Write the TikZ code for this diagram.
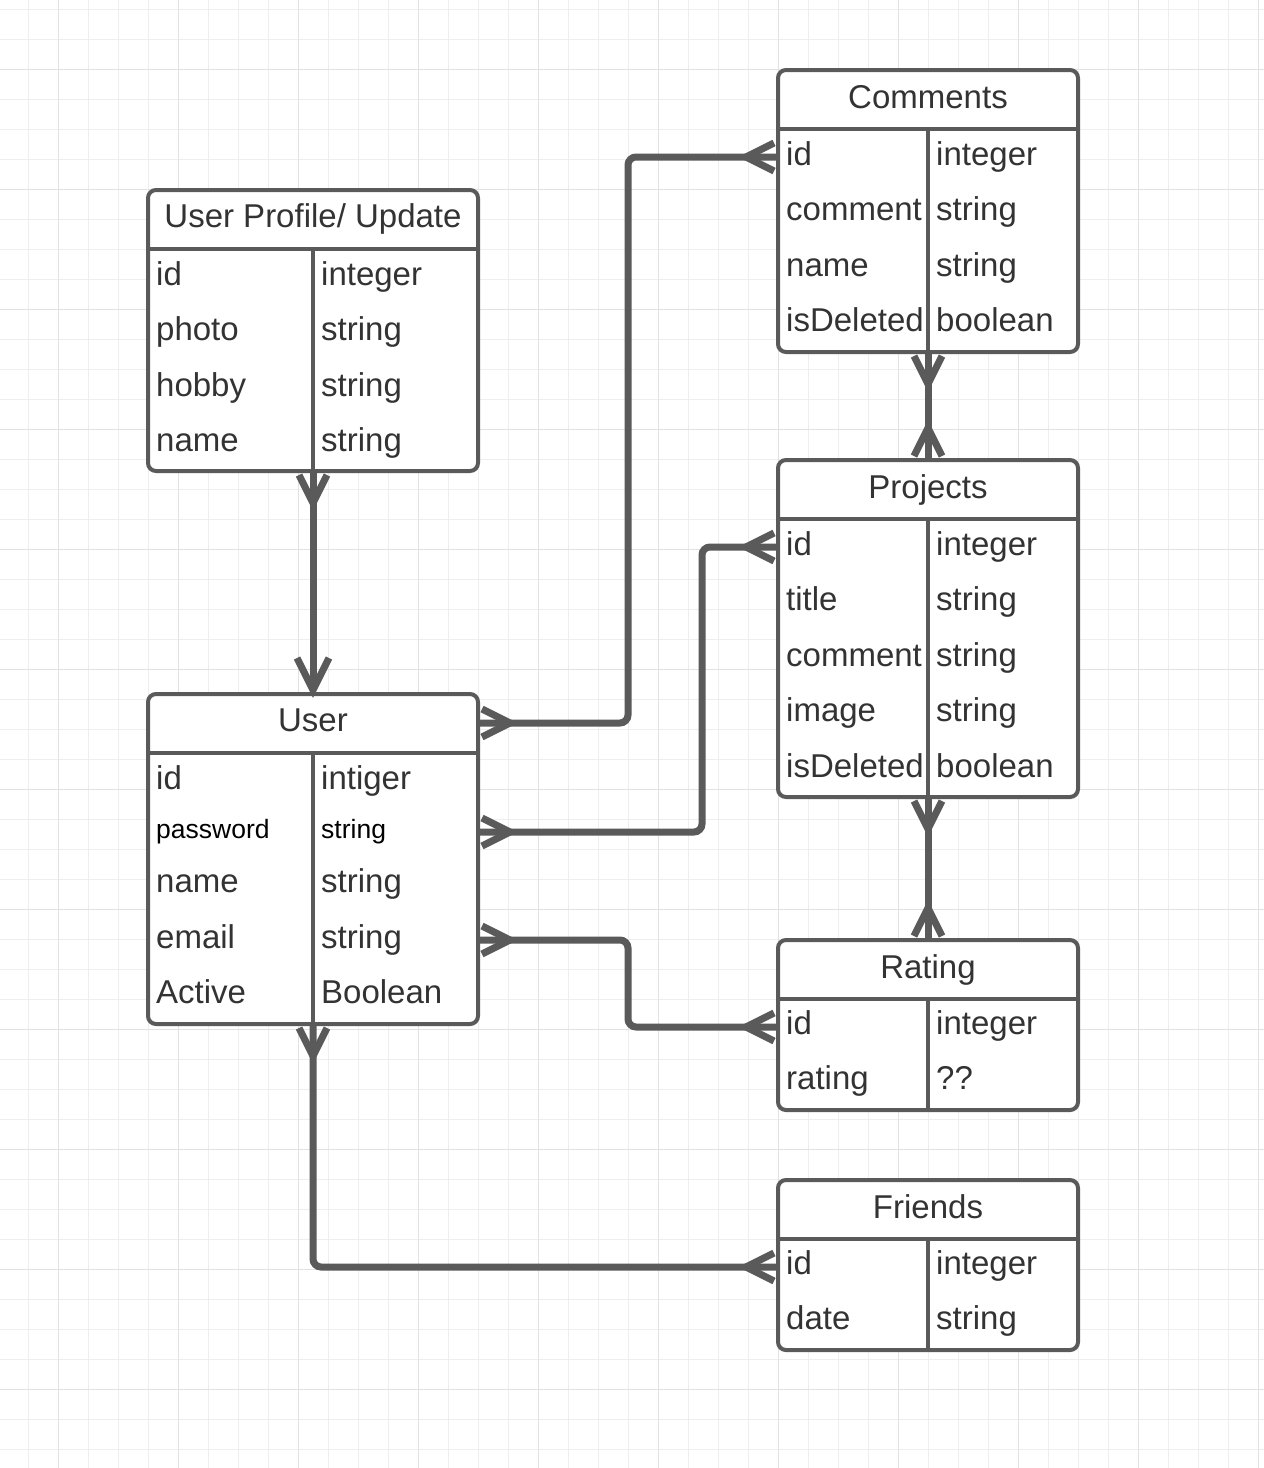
\documentclass[tikz,border=0pt]{standalone}
\usepackage{fontspec}
\setmainfont{Liberation Sans}
\usetikzlibrary{calc}
\definecolor{ln}{HTML}{5A5A5A}
\definecolor{tx}{HTML}{333333}
\definecolor{gmin}{HTML}{EEEEEE}
\definecolor{gmaj}{HTML}{E2E2E2}
\tikzset{
  tbl/.style={draw=ln, line width=4pt, rounded corners=8pt, fill=white, inner sep=0pt, outer sep=0pt},
  sep/.style={draw=ln, line width=4pt},
  conn/.style={draw=ln, line width=7pt, rounded corners=8pt},
  lbl/.style={anchor=base west, inner sep=0pt, text=tx, font=\fontsize{33}{40}\selectfont},
  small/.style={anchor=base west, inner sep=0pt, text=black, font=\fontsize{26.5}{32}\selectfont},
  ttl/.style={anchor=base, inner sep=0pt, text=tx, font=\fontsize{33}{40}\selectfont},
  crow/.pic={\draw[draw=ln, line width=7pt] (4,-14) -- (32,0) -- (4,14);},
  arrowhd/.pic={\draw[draw=ln, line width=7pt] (36,-16) -- (4,0) -- (36,16);}
}
\begin{document}
\begin{tikzpicture}[x=1pt,y=-1pt]
\useasboundingbox (0,0) rectangle (1264,1468);
\fill[white] (0,0) rectangle (1264,1468);
% grid
\foreach \i in {0,...,41} {\draw[gmin, line width=1pt] ({28+30*\i},0) -- ({28+30*\i},1468);}
\foreach \i in {0,...,48} {\draw[gmin, line width=1pt] (0,{9.5+30*\i}) -- (1264,{9.5+30*\i});}
\foreach \i in {0,...,10} {\draw[gmaj, line width=1pt] ({58+120*\i},0) -- ({58+120*\i},1468);}
\foreach \i in {0,...,11} {\draw[gmaj, line width=1pt] (0,{69.5+120*\i}) -- (1264,{69.5+120*\i});}

% ---- tables ----
% User Profile / Update
\node[tbl, minimum width=330pt, minimum height=281pt] (up) at (313,330.5) {};
\draw[sep] (148,249) -- (478,249) (313,249) -- (313,471);
\node[ttl] (upt) at (313,227) {User Profile/ Update};
\node[lbl] (up1a) at (156,285) {id};     \node[lbl] (up1b) at (321,285) {integer};
\node[lbl] (up2a) at (156,340) {photo};  \node[lbl] (up2b) at (321,340) {string};
\node[lbl] (up3a) at (156,396) {hobby};  \node[lbl] (up3b) at (321,396) {string};
\node[lbl] (up4a) at (156,451) {name};   \node[lbl] (up4b) at (321,451) {string};

% User
\node[tbl, minimum width=330pt, minimum height=330pt] (user) at (313,859) {};
\draw[sep] (148,753) -- (478,753) (313,753) -- (313,1024);
\node[ttl] (usert) at (313,731) {User};
\node[lbl] (us1a) at (156,789) {id};        \node[lbl] (us1b) at (321,789) {intiger};
\node[small] (us2a) at (156,838) {password}; \node[small] (us2b) at (321,838) {string};
\node[lbl] (us3a) at (156,892) {name};      \node[lbl] (us3b) at (321,892) {string};
\node[lbl] (us4a) at (156,948) {email};     \node[lbl] (us4b) at (321,948) {string};
\node[lbl] (us5a) at (156,1003) {Active};   \node[lbl] (us5b) at (321,1003) {Boolean};

% Comments
\node[tbl, minimum width=300pt, minimum height=282pt] (com) at (928,211) {};
\draw[sep] (778,129) -- (1078,129) (928,129) -- (928,352);
\node[ttl] (comt) at (928,108) {Comments};
\node[lbl] (co1a) at (786,165) {id};        \node[lbl] (co1b) at (936,165) {integer};
\node[lbl] (co2a) at (786,220) {comment};   \node[lbl] (co2b) at (936,220) {string};
\node[lbl] (co3a) at (786,276) {name};      \node[lbl] (co3b) at (936,276) {string};
\node[lbl] (co4a) at (786,331) {isDeleted}; \node[lbl] (co4b) at (936,331) {boolean};

% Projects
\node[tbl, minimum width=300pt, minimum height=337pt] (proj) at (928,628.5) {};
\draw[sep] (778,519) -- (1078,519) (928,519) -- (928,797);
\node[ttl] (projt) at (928,498) {Projects};
\node[lbl] (pr1a) at (786,555) {id};        \node[lbl] (pr1b) at (936,555) {integer};
\node[lbl] (pr2a) at (786,610) {title};     \node[lbl] (pr2b) at (936,610) {string};
\node[lbl] (pr3a) at (786,666) {comment};   \node[lbl] (pr3b) at (936,666) {string};
\node[lbl] (pr4a) at (786,721) {image};     \node[lbl] (pr4b) at (936,721) {string};
\node[lbl] (pr5a) at (786,777) {isDeleted}; \node[lbl] (pr5b) at (936,777) {boolean};

% Rating
\node[tbl, minimum width=300pt, minimum height=170pt] (rat) at (928,1025) {};
\draw[sep] (778,999) -- (1078,999) (928,999) -- (928,1110);
\node[ttl] (ratt) at (928,978) {Rating};
\node[lbl] (ra1a) at (786,1034) {id};     \node[lbl] (ra1b) at (936,1034) {integer};
\node[lbl] (ra2a) at (786,1089) {rating}; \node[lbl] (ra2b) at (936,1089) {??};

% Friends
\node[tbl, minimum width=300pt, minimum height=170pt] (fr) at (928,1265) {};
\draw[sep] (778,1239) -- (1078,1239) (928,1239) -- (928,1350);
\node[ttl] (frt) at (928,1218) {Friends};
\node[lbl] (fr1a) at (786,1274) {id};   \node[lbl] (fr1b) at (936,1274) {integer};
\node[lbl] (fr2a) at (786,1329) {date}; \node[lbl] (fr2b) at (936,1329) {string};

% ---- connection points ----
\coordinate (uA) at (user.east |- 0,723);
\coordinate (uB) at (user.east |- 0,832);
\coordinate (uC) at (user.east |- 0,940);
\coordinate (cA) at (com.west |- 0,157);
\coordinate (pA) at (proj.west |- 0,547);
\coordinate (rA) at (rat.west |- 0,1027);
\coordinate (fA) at (fr.west |- 0,1267);
\coordinate (uTop) at ($(user.north)+(0,-4)$);

% ---- connectors ----
\draw[conn] (up.south) -- (uTop);
\draw[conn] (uA) -- (628,723) -- (628,157) -- (cA);
\draw[conn] (uB) -- (702,832) -- (702,547) -- (pA);
\draw[conn] (uC) -- (628,940) -- (628,1027) -- (rA);
\draw[conn] (user.south) -- (313,1267) -- (fA);
\draw[conn] (com.south) -- (proj.north);
\draw[conn] (proj.south) -- (rat.north);

% ---- ends ----
\pic[rotate=-90] at (up.south) {crow};
\pic[rotate=90] at (user.north) {arrowhd};
\pic at (uA) {crow};
\pic at (uB) {crow};
\pic at (uC) {crow};
\pic[rotate=180] at (cA) {crow};
\pic[rotate=180] at (pA) {crow};
\pic[rotate=180] at (rA) {crow};
\pic[rotate=180] at (fA) {crow};
\pic[rotate=-90] at (user.south) {crow};
\pic[rotate=-90] at (com.south) {crow};
\pic[rotate=90] at (proj.north) {crow};
\pic[rotate=-90] at (proj.south) {crow};
\pic[rotate=90] at (rat.north) {crow};
\end{tikzpicture}
\end{document}
